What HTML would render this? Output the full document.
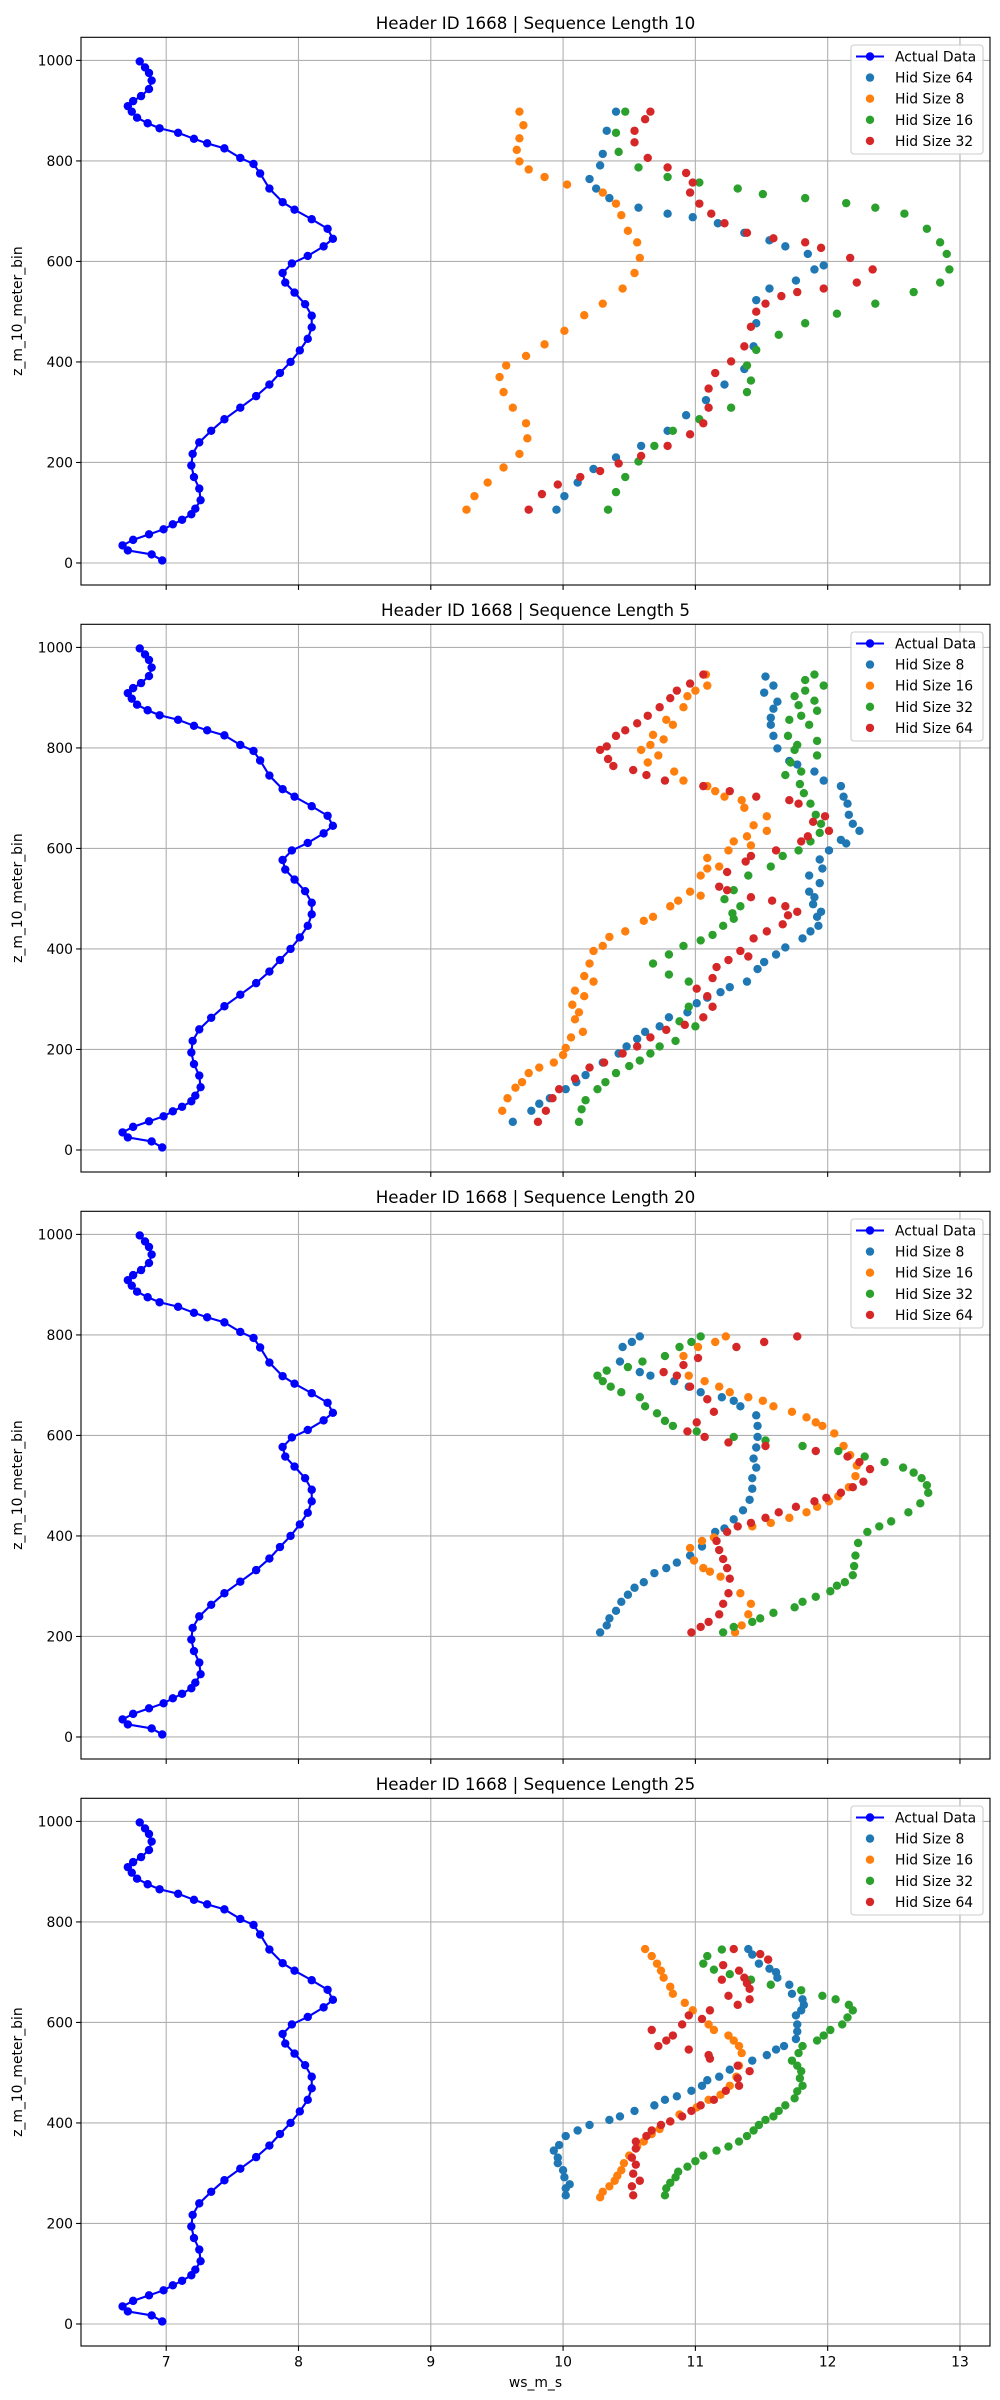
<!DOCTYPE html>
<html><head><meta charset="utf-8">
<style>
html,body{margin:0;padding:0;background:#fff;}
svg{display:block;font-family:"DejaVu Sans","Liberation Sans",sans-serif;}
</style></head>
<body>
<svg id="fig" width="1000" height="2400" viewBox="0 0 1000 2400" xmlns="http://www.w3.org/2000/svg"></svg>
<script>
// ---- data ----
const actualWs = [6.97,6.89,6.71,6.67,6.75,6.87,6.98,7.05,7.12,7.19,7.22,7.26,7.25,7.21,7.19,7.20,7.25,7.34,7.44,7.56,7.68,7.78,7.86,7.94,8.01,8.07,8.10,8.10,8.05,7.97,7.90,7.88,7.95,8.07,8.19,8.26,8.22,8.10,7.97,7.88,7.78,7.71,7.66,7.56,7.44,7.31,7.21,7.09,6.95,6.86,6.78,6.74,6.71,6.75,6.81,6.87,6.89,6.87,6.84,6.80];
const actualZ = [5,17,25,35,46,57,67,77,86,97,108,125,148,171,194,217,240,263,286,309,332,355,378,400,423,446,469,492,515,538,558,577,596,611,630,645,665,684,703,718,745,775,794,806,825,835,844,856,865,875,886,898,909,919,929,943,960,975,986,998];

const panelTitles = ["Header ID 1668 | Sequence Length 10","Header ID 1668 | Sequence Length 5","Header ID 1668 | Sequence Length 20","Header ID 1668 | Sequence Length 25"];
const legendLabels = [["Hid Size 64","Hid Size 8","Hid Size 16","Hid Size 32"],["Hid Size 8","Hid Size 16","Hid Size 32","Hid Size 64"],["Hid Size 8","Hid Size 16","Hid Size 32","Hid Size 64"],["Hid Size 8","Hid Size 16","Hid Size 32","Hid Size 64"]];
const xTicks = [7,8,9,10,11,12,13];
const yTicks = [0,200,400,600,800,1000];

// panel 1 (seq 10)
const p1s0 = [[9.95,106],[10.01,133],[10.11,160],[10.23,187],[10.40,210],[10.59,233],[10.79,263],[10.93,294],[11.08,324],[11.22,355],[11.37,386],[11.44,431],[11.46,477],[11.46,523],[11.56,546],[11.76,562],[11.90,584],[11.97,592],[11.85,615],[11.68,630],[11.56,642],[11.37,657],[11.17,676],[10.98,688],[10.79,695],[10.57,707],[10.35,726],[10.25,745],[10.20,764],[10.28,791],[10.30,814],[10.33,860],[10.40,898]];
const p1s1 = [[9.27,106],[9.33,133],[9.43,160],[9.55,190],[9.67,217],[9.73,248],[9.72,278],[9.62,309],[9.55,340],[9.52,370],[9.57,393],[9.72,412],[9.86,435],[10.01,462],[10.16,493],[10.30,516],[10.45,546],[10.54,577],[10.58,607],[10.56,638],[10.49,661],[10.44,692],[10.40,715],[10.30,737],[10.03,753],[9.86,768],[9.74,783],[9.67,799],[9.65,822],[9.67,845],[9.70,871],[9.67,898]];
const p1s2 = [[10.34,106],[10.40,141],[10.47,171],[10.57,202],[10.69,233],[10.83,263],[11.03,286],[11.27,309],[11.39,340],[11.42,363],[11.39,393],[11.46,424],[11.63,454],[11.83,477],[12.07,496],[12.36,516],[12.65,539],[12.85,558],[12.92,584],[12.90,615],[12.85,638],[12.75,665],[12.58,695],[12.36,707],[12.14,716],[11.83,726],[11.51,734],[11.32,745],[11.03,757],[10.79,768],[10.57,787],[10.42,818],[10.40,856],[10.47,898]];
const p1s3 = [[9.74,106],[9.84,137],[9.96,156],[10.13,171],[10.28,183],[10.42,198],[10.59,213],[10.79,233],[10.96,256],[11.06,278],[11.10,309],[11.10,347],[11.15,378],[11.27,401],[11.37,431],[11.42,470],[11.46,500],[11.53,516],[11.65,531],[11.77,539],[11.97,546],[12.22,558],[12.34,584],[12.17,607],[11.95,627],[11.83,638],[11.59,646],[11.39,657],[11.22,676],[11.12,695],[11.03,715],[10.96,737],[10.98,757],[10.93,776],[10.79,787],[10.64,806],[10.54,837],[10.54,860],[10.62,883],[10.66,898]];
// panel 2 (seq 5)
const p2s0 = [[9.62,56],[9.76,78],[9.82,92],[9.90,103],[10.02,121],[10.10,135],[10.17,149],[10.30,174],[10.42,192],[10.48,206],[10.56,221],[10.62,235],[10.73,246],[10.80,264],[10.94,274],[11.01,292],[11.09,303],[11.19,314],[11.26,324],[11.39,335],[11.47,360],[11.52,374],[11.61,389],[11.68,403],[11.81,421],[11.87,435],[11.93,446],[11.92,464],[11.95,474],[11.89,489],[11.90,503],[11.86,514],[11.94,531],[11.86,546],[11.96,560],[11.94,578],[12.01,596],[12.14,610],[12.10,617],[12.24,635],[12.19,649],[12.16,667],[12.15,689],[12.12,703],[12.10,724],[11.97,735],[11.90,753],[11.77,767],[11.71,774],[11.62,799],[11.59,824],[11.57,846],[11.57,860],[11.59,878],[11.62,892],[11.52,910],[11.59,924],[11.53,942]];
const p2s1 = [[9.54,78],[9.58,103],[9.64,124],[9.69,135],[9.74,153],[9.82,164],[9.93,174],[10.00,189],[10.02,203],[10.06,224],[10.15,235],[10.09,260],[10.12,274],[10.07,289],[10.09,317],[10.16,306],[10.16,346],[10.23,335],[10.20,371],[10.23,396],[10.30,406],[10.35,424],[10.47,435],[10.61,456],[10.68,464],[10.81,485],[10.87,496],[10.96,514],[11.04,506],[11.04,546],[11.09,560],[11.18,564],[11.09,581],[11.25,596],[11.29,614],[11.42,606],[11.39,624],[11.44,646],[11.54,664],[11.54,635],[11.37,681],[11.35,696],[11.22,703],[11.15,714],[11.09,724],[10.91,735],[10.84,753],[10.72,785],[10.64,771],[10.59,796],[10.66,806],[10.76,817],[10.83,846],[10.78,856],[10.68,826],[10.91,881],[10.94,903],[11.00,914],[11.09,924],[11.08,946]];
const p2s2 = [[10.12,56],[10.14,81],[10.17,99],[10.26,121],[10.32,135],[10.40,153],[10.50,167],[10.58,178],[10.66,192],[10.73,206],[10.85,217],[10.88,256],[11.00,246],[10.95,285],[10.95,335],[10.80,349],[10.80,389],[10.68,371],[10.91,406],[11.04,417],[11.13,428],[11.21,446],[11.29,460],[11.28,471],[11.34,485],[11.22,499],[11.29,517],[11.40,546],[11.57,564],[11.66,585],[11.78,596],[11.87,614],[11.94,631],[11.95,649],[11.91,667],[11.87,689],[11.82,710],[11.79,728],[11.80,753],[11.68,746],[11.72,771],[11.75,796],[11.77,806],[11.92,785],[11.92,814],[11.70,824],[11.71,856],[11.80,864],[11.86,846],[11.92,874],[11.78,885],[11.75,903],[11.83,914],[11.90,894],[11.97,924],[11.83,935],[11.90,946]];
const p2s3 = [[9.81,56],[9.87,78],[9.92,103],[9.97,121],[10.09,142],[10.20,164],[10.31,174],[10.45,192],[10.56,206],[10.66,224],[10.78,239],[10.92,249],[11.06,264],[11.13,285],[11.09,306],[11.01,321],[11.13,342],[11.16,364],[11.25,378],[11.34,396],[11.40,385],[11.44,421],[11.54,435],[11.66,449],[11.70,467],[11.77,474],[11.68,485],[11.58,496],[11.42,503],[11.24,517],[11.18,524],[11.24,553],[11.38,574],[11.42,585],[11.61,596],[11.80,614],[11.85,624],[12.01,635],[11.89,653],[11.98,664],[11.78,689],[11.71,696],[11.46,703],[11.26,714],[11.06,724],[10.77,735],[10.63,746],[10.53,756],[10.38,764],[10.34,778],[10.28,796],[10.33,803],[10.40,824],[10.47,835],[10.56,849],[10.64,864],[10.73,881],[10.81,899],[10.86,914],[10.96,928],[11.06,946]];
// panel 3 (seq 20)
const p3s0 = [[10.28,208],[10.33,222],[10.35,236],[10.40,251],[10.44,269],[10.49,283],[10.54,297],[10.61,308],[10.69,326],[10.78,336],[10.86,347],[10.96,361],[11.05,379],[11.15,408],[11.22,415],[11.29,433],[11.36,451],[11.41,472],[11.43,494],[11.43,515],[11.46,536],[11.44,554],[11.46,576],[11.47,597],[11.47,619],[11.46,640],[11.34,658],[11.29,669],[11.20,676],[11.04,686],[10.95,697],[10.84,708],[10.66,719],[10.58,726],[10.43,747],[10.45,776],[10.52,786],[10.58,797]];
const p3s1 = [[11.30,208],[11.35,222],[11.40,244],[11.42,265],[11.34,286],[11.19,319],[11.11,329],[11.06,336],[10.99,351],[10.96,376],[11.05,390],[11.14,397],[11.43,419],[11.57,426],[11.71,436],[11.84,447],[11.92,458],[12.01,469],[12.08,479],[12.16,497],[12.21,519],[12.22,540],[12.17,561],[12.12,579],[12.05,604],[11.96,619],[11.91,626],[11.84,636],[11.73,647],[11.59,658],[11.51,669],[11.40,676],[11.26,686],[11.18,697],[11.07,708],[10.95,719],[10.91,758],[11.02,776],[11.15,786],[11.23,797]];
const p3s2 = [[11.21,208],[11.29,219],[11.43,229],[11.49,236],[11.59,247],[11.75,258],[11.81,269],[11.91,279],[12.02,290],[12.07,301],[12.13,308],[12.19,322],[12.20,340],[12.21,361],[12.23,386],[12.30,408],[12.39,419],[12.48,429],[12.61,447],[12.70,465],[12.76,486],[12.75,501],[12.71,515],[12.65,526],[12.57,536],[12.43,547],[12.28,558],[12.08,569],[11.81,579],[11.53,590],[11.29,597],[11.01,608],[10.83,619],[10.77,629],[10.71,644],[10.62,658],[10.58,676],[10.44,686],[10.36,697],[10.30,708],[10.26,719],[10.33,729],[10.49,736],[10.60,747],[10.77,758],[10.88,776],[10.97,786],[11.04,797]];
const p3s3 = [[10.97,208],[11.04,219],[11.10,229],[11.18,244],[11.21,265],[11.25,286],[11.26,315],[11.24,336],[11.21,354],[11.18,372],[11.16,390],[11.24,408],[11.32,419],[11.42,426],[11.53,436],[11.63,447],[11.76,458],[11.90,469],[11.99,476],[12.10,486],[12.19,497],[12.27,508],[12.32,533],[12.24,547],[12.15,558],[11.91,569],[11.53,579],[11.25,586],[11.07,597],[10.94,608],[11.01,626],[11.14,647],[11.09,672],[10.96,697],[10.86,719],[10.76,726],[10.91,740],[11.02,754],[11.31,776],[11.52,786],[11.77,797]];
// panel 4 (seq 25)
const p4s0 = [[10.02,256],[10.02,270],[10.05,278],[10.01,292],[10.00,306],[9.96,320],[9.96,331],[9.93,345],[9.97,356],[10.02,374],[10.11,385],[10.20,396],[10.35,406],[10.43,413],[10.54,424],[10.69,435],[10.77,446],[10.86,453],[10.97,464],[11.05,474],[11.09,485],[11.18,492],[11.26,506],[11.43,524],[11.54,535],[11.61,546],[11.67,553],[11.76,567],[11.77,582],[11.77,596],[11.76,614],[11.80,624],[11.82,635],[11.81,646],[11.73,657],[11.71,675],[11.62,689],[11.61,700],[11.56,707],[11.48,717],[11.43,735],[11.40,746]];
const p4s1 = [[10.28,252],[10.30,263],[10.35,274],[10.39,285],[10.41,295],[10.44,306],[10.46,320],[10.50,335],[10.56,353],[10.61,363],[10.67,378],[10.73,388],[10.81,403],[10.88,417],[11.01,431],[11.10,446],[11.19,456],[11.26,474],[11.31,492],[11.33,514],[11.35,539],[11.33,553],[11.29,564],[11.25,574],[11.14,585],[11.10,596],[10.98,624],[10.92,639],[10.83,657],[10.81,671],[10.76,689],[10.74,703],[10.71,717],[10.67,732],[10.62,746]];
const p4s2 = [[10.77,256],[10.78,270],[10.81,281],[10.85,292],[10.87,303],[10.94,313],[11.00,324],[11.06,335],[11.16,345],[11.25,353],[11.33,363],[11.39,374],[11.44,385],[11.48,396],[11.53,406],[11.59,413],[11.63,424],[11.68,435],[11.75,449],[11.77,463],[11.81,474],[11.79,489],[11.80,503],[11.77,514],[11.73,524],[11.78,539],[11.81,553],[11.92,564],[11.97,574],[12.02,585],[12.11,596],[12.15,610],[12.19,624],[12.16,635],[12.06,646],[11.96,653],[11.80,664],[11.57,675],[11.42,685],[11.26,696],[11.14,705],[11.06,717],[11.09,732],[11.20,745]];
const p4s3 = [[10.53,256],[10.52,274],[10.58,285],[10.53,299],[10.55,317],[10.52,331],[10.55,349],[10.55,363],[10.63,374],[10.67,385],[10.74,396],[10.81,403],[10.90,413],[10.97,424],[11.04,435],[11.14,446],[11.23,464],[11.33,474],[11.32,489],[11.41,503],[11.32,514],[11.11,528],[11.10,535],[10.95,546],[10.72,553],[10.78,564],[10.83,574],[10.67,585],[10.90,596],[11.05,607],[10.95,614],[11.11,624],[11.32,635],[11.25,653],[11.41,646],[11.41,667],[11.39,678],[11.33,703],[11.37,689],[11.20,685],[11.21,714],[11.29,746],[11.49,736],[11.55,725]];

const panelSeries = [[p1s0,p1s1,p1s2,p1s3],[p2s0,p2s1,p2s2,p2s3],[p3s0,p3s1,p3s2,p3s3],[p4s0,p4s1,p4s2,p4s3]];

// ---- drawing ----
const NS = "http://www.w3.org/2000/svg";
const svg = document.getElementById('fig');
const COLORS = ['#1f77b4','#ff7f0e','#2ca02c','#d62728'];
const AX = {left:81, right:990, top:37.3, bottom:585};
const PANEL_DY = 587;
const XMIN = 6.356, XMAX = 13.227, YMIN = -43.8, YMAX = 1046;
const R = 4.2;

function mk(tag, attrs, parent){
  const e = document.createElementNS(NS, tag);
  for (const k in attrs) e.setAttribute(k, attrs[k]);
  (parent||svg).appendChild(e);
  return e;
}
function xScale(v){ return AX.left + (v - XMIN)/(XMAX - XMIN)*(AX.right - AX.left); }
function yScale(v, off){ return off + AX.bottom - (v - YMIN)/(YMAX - YMIN)*(AX.bottom - AX.top); }

panelTitles.forEach((title, p) => {
  const off = p*PANEL_DY;
  const g = mk('g', {});
  
  

  const t = mk('text', {x:(AX.left+AX.right)/2, y:off+29, 'text-anchor':'middle', 'font-size':'16.7', fill:'#000'}, g);
  t.textContent = title;
  
  

  const plot = mk('rect', {x:AX.left, y:off+AX.top, width:AX.right-AX.left, height:AX.bottom-AX.top, fill:'#fff'}, g);
  
  

  // grid + ticks
  xTicks.forEach(v => {
    const x = xScale(v);
    const gl = mk('line', {x1:x, x2:x, y1:off+AX.top, y2:off+AX.bottom, stroke:'#b0b0b0', 'stroke-width':1.1}, g);
    
    
    const tk = mk('line', {x1:x, x2:x, y1:off+AX.bottom, y2:off+AX.bottom+4.9, stroke:'#000', 'stroke-width':1.1}, g);
    
    
    if (p === 3) {
      const tl = mk('text', {x:x, y:off+AX.bottom+20.5, 'text-anchor':'middle', 'font-size':'13.9'}, g);
      tl.textContent = String(v);
      
      
    }
  });
  yTicks.forEach(v => {
    const y = yScale(v, off);
    const gl = mk('line', {x1:AX.left, x2:AX.right, y1:y, y2:y, stroke:'#b0b0b0', 'stroke-width':1.1}, g);
    
    
    const tk = mk('line', {x1:AX.left-4.9, x2:AX.left, y1:y, y2:y, stroke:'#000', 'stroke-width':1.1}, g);
    
    
    const tl = mk('text', {x:AX.left-8, y:y+5, 'text-anchor':'end', 'font-size':'13.9'}, g);
    tl.textContent = String(v);
    
    
  });

  const yl = mk('text', {x:0, y:0, 'text-anchor':'middle', 'font-size':'13.9', transform:`translate(22,${off+(AX.top+AX.bottom)/2}) rotate(-90)`}, g);
  yl.textContent = 'z_m_10_meter_bin';
  
  

  // actual data line
  const pts = actualWs.map((w,i) => xScale(w).toFixed(2)+','+yScale(actualZ[i],off).toFixed(2)).join(' ');
  const line = mk('polyline', {points:pts, fill:'none', stroke:'#0000ff', 'stroke-width':2.1}, g);
  
  
  actualWs.forEach((w,i) => {
    const c = mk('circle', {cx:xScale(w), cy:yScale(actualZ[i],off), r:R, fill:'#0000ff'}, g);
    
    
  });

  // scatter series
  panelSeries[p].forEach((ser, si) => {
    ser.forEach(pt => {
      const c = mk('circle', {cx:xScale(pt[0]), cy:yScale(pt[1],off), r:R, fill:COLORS[si]}, g);
      
      
    });
  });

  // spines
  const sp = mk('rect', {x:AX.left, y:off+AX.top, width:AX.right-AX.left, height:AX.bottom-AX.top, fill:'none', stroke:'#000', 'stroke-width':1.1}, g);
  
  

  // legend
  const lg = mk('g', {}, g);
  
  
  mk('rect', {x:851, y:off+45, width:132, height:109, rx:3, fill:'#fff', 'fill-opacity':0.85, stroke:'#cccccc', 'stroke-width':1.1}, lg);
  const ly0 = off+56.5, ldy = 21.1;
  const ll = mk('line', {x1:856, x2:884, y1:ly0, y2:ly0, stroke:'#0000ff', 'stroke-width':2.1}, lg);
  
  
  mk('circle', {cx:870, cy:ly0, r:R, fill:'#0000ff'}, lg);
  const lt = mk('text', {x:895, y:ly0+5, 'font-size':'13.9'}, lg);
  lt.textContent = 'Actual Data';
  
  
  legendLabels[p].forEach((lab, i) => {
    const y = ly0 + ldy*(i+1);
    const m = mk('circle', {cx:870, cy:y, r:R, fill:COLORS[i]}, lg);
    
    
    const tx = mk('text', {x:895, y:y+5, 'font-size':'13.9'}, lg);
    tx.textContent = lab;
    
    
  });
});

const xl = mk('text', {x:(AX.left+AX.right)/2, y:3*PANEL_DY+AX.bottom+41, 'text-anchor':'middle', 'font-size':'13.9'});
xl.textContent = 'ws_m_s';


</script>
</body></html>
